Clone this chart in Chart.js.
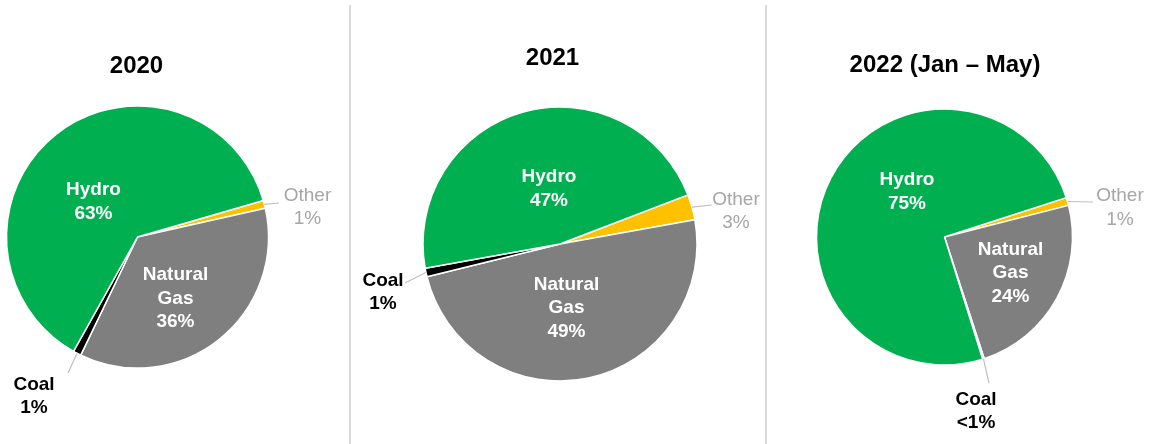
<!DOCTYPE html>
<html>
<head>
<meta charset="utf-8">
<script src="https://cdn.jsdelivr.net/npm/chart.js@4.4.1/dist/chart.umd.min.js"></script>
<style>
  html, body { margin: 0; padding: 0; background: #fff; }
  #wrap { position: relative; width: 1155px; height: 444px; overflow: hidden; }
  .panel { position: absolute; top: 0; height: 444px; }
  .sep { position: absolute; top: 5px; bottom: 0; width: 1.5px; background: #d9d9d9; }
</style>
</head>
<body>
<div id="wrap">
  <div class="panel" style="left:0;width:349px"><canvas id="pie2020"></canvas></div>
  <div class="panel" style="left:349px;width:416px"><canvas id="pie2021"></canvas></div>
  <div class="panel" style="left:765px;width:390px"><canvas id="pie2022"></canvas></div>
  <div class="sep" style="left:349px"></div>
  <div class="sep" style="left:765px"></div>
</div>
<script>
// ---generation mix data---

const categories = ["Other", "Natural Gas", "Coal", "Hydro"];
const years = ["2020", "2021", "2022 (Jan – May)"];
const share2020 = [1, 36, 1, 63];
const share2021 = [3, 49, 1, 47];
const share2022 = [1, 24, 0.2, 75];

const sliceColors = ["#ffc000", "#7f7f7f", "#000000", "#00b050"];
const FONT = '"Liberation Sans", Arial, sans-serif';

// label look per category
const labelStyle = {
  "Other": { color: "#a6a6a6", weight: "normal" },
  "Natural Gas": { color: "#ffffff", weight: "bold" },
  "Coal": { color: "#000000", weight: "bold" },
  "Hydro": { color: "#ffffff", weight: "bold" },
};

function pctText(v) {
  return v < 1 ? "<1%" : Math.round(v) + "%";
}

// draws the title, slice labels and leader lines
const pieLabels = {
  id: "pieLabels",
  afterDatasetsDraw(chart, args, opts) {
    const ctx = chart.ctx;
    const meta = chart.getDatasetMeta(0);
    const values = chart.data.datasets[0].data;
    const cx = meta.data[0].x;
    const cy = meta.data[0].y;
    ctx.save();
    ctx.textAlign = "center";
    ctx.textBaseline = "middle";

    ctx.font = "bold 24px " + FONT;
    ctx.fillStyle = "#000";
    ctx.fillText(opts.title, cx + opts.titleDx, opts.titleY);

    chart.data.labels.forEach(function (name, i) {
      const p = opts.place[name];
      const arc = meta.data[i];
      if (p.leader) {
        const mid = (arc.startAngle + arc.endAngle) / 2;
        ctx.beginPath();
        ctx.moveTo(cx + Math.cos(mid) * arc.outerRadius, cy + Math.sin(mid) * arc.outerRadius);
        ctx.lineTo(cx + p.leader[0], cy + p.leader[1]);
        ctx.strokeStyle = "#bfbfbf";
        ctx.lineWidth = 1.2;
        ctx.stroke();
      }
      const st = labelStyle[name];
      const lines = name.split(" ").concat(pctText(values[i]));
      const lh = 23.5;
      ctx.font = st.weight + " 19px " + FONT;
      ctx.fillStyle = st.color;
      const top = cy + p.at[1] - (lines.length - 1) * lh / 2;
      lines.forEach(function (t, k) {
        ctx.fillText(t, cx + p.at[0], top + k * lh);
      });
    });
    ctx.restore();
  },
};

function makePie(id, values, title, cfg) {
  const el = document.getElementById(id);
  const box = el.parentNode;
  el.width = box.offsetWidth;
  el.height = box.offsetHeight;
  return new Chart(el.getContext("2d"), {
    type: "pie",
    data: {
      labels: categories,
      datasets: [
        {
          data: values,
          backgroundColor: sliceColors,
          borderColor: "#ffffff",
          borderWidth: 1.5,
        },
      ],
    },
    options: {
      responsive: false,
      animation: false,
      events: [],
      rotation: cfg.rotation,
      radius: cfg.radius,
      layout: { padding: cfg.padding },
      plugins: {
        legend: { display: false },
        tooltip: { enabled: false },
        pieLabels: {
          title: title,
          titleDx: cfg.titleDx,
          titleY: cfg.titleY,
          place: cfg.place,
        },
      },
    },
    plugins: [pieLabels],
  });
}

makePie("pie2020", share2020, years[0], {
  rotation: 73.8,
  radius: 131,
  padding: { left: 0, right: 74, top: 30, bottom: 0 },
  titleDx: -1,
  titleY: 66,
  place: {
    "Hydro": { at: [-44, -35] },
    "Natural Gas": { at: [38, 61.5] },
    "Other": { at: [170, -29.5], leader: [141.5, -34] },
    "Coal": { at: [-103.5, 159.5], leader: [-69.5, 136] },
  },
});

makePie("pie2021", share2021, years[1], {
  rotation: 69,
  radius: 137,
  padding: { left: 6, right: 0, top: 44, bottom: 0 },
  titleDx: -7.5,
  titleY: 58.5,
  place: {
    "Hydro": { at: [-11, -55] },
    "Natural Gas": { at: [6.5, 64] },
    "Other": { at: [176, -32.5], leader: [151.7, -39] },
    "Coal": { at: [-177, 48.5], leader: [-155, 39] },
  },
});

makePie("pie2022", share2022, years[2], {
  rotation: 72.1,
  radius: 128,
  padding: { left: 0, right: 31, top: 30, bottom: 0 },
  titleDx: 0.5,
  titleY: 65,
  place: {
    "Hydro": { at: [-37.5, -45] },
    "Natural Gas": { at: [66, 36] },
    "Other": { at: [175.5, -29], leader: [148.5, -35] },
    "Coal": { at: [31.5, 174.5], leader: [44.5, 146] },
  },
});
</script>
</body>
</html>
